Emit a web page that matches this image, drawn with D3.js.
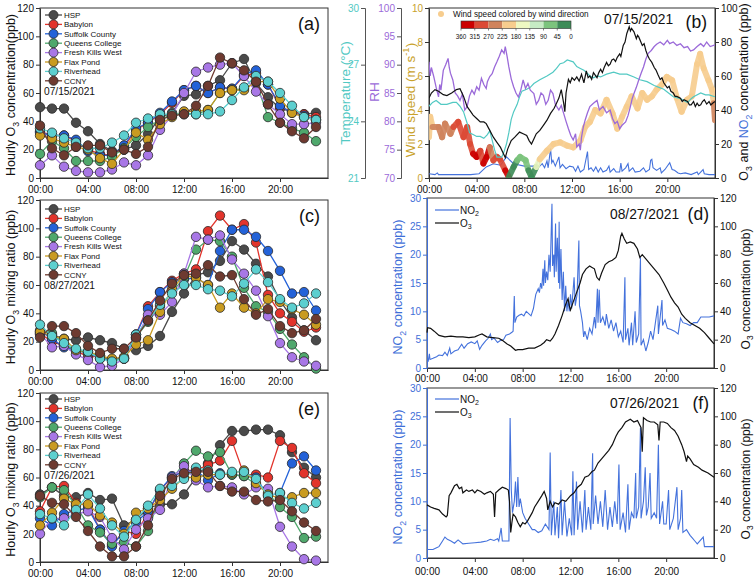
<!DOCTYPE html>
<html><head><meta charset="utf-8">
<script src="https://cdn.jsdelivr.net/npm/d3@7"></script>
<style>body{margin:0;background:#fff}svg{display:block}</style>
</head><body>
<svg id="c" width="756" height="581"></svg>
<script>
// ---------------- DATA ----------------
const stations = ["HSP","Babylon","Suffolk County","Queens College","Fresh Kills West","Flax Pond","Riverhead","CCNY"];
const hourTicks = [0,4,8,12,16,20];

// Hourly O3 (ppb), hours 0..23, one row per station (same order as stations)
const o3_0715 = [
  [50,49,49,39,33,24,19,20,23,31,43,46,58,59,65,69,81,84,67,57,49,47,45,46],
  [33,30,30,26,20,17,16,22,34,39,45,53,62,65,60,64,63,72,74,66,50,47,45,43],
  [32,30,30,27,19,16,16,23,35,39,46,54,62,65,60,64,63,73,76,66,51,46,44,41],
  [17,26,21,12,12,12,15,21,29,36,41,45,46,45,48,60,62,63,68,43,39,35,32,26],
  [9,16,8,5,4,4,6,11,9,16,34,44,60,75,78,80,81,72,61,52,45,38,38,39],
  [30,28,25,22,20,14,10,20,32,27,38,43,47,47,48,60,62,62,68,68,56,46,43,41],
  [35,32,28,25,21,21,25,30,39,42,45,45,45,45,45,47,55,64,72,68,60,51,43,41],
  [37,21,16,22,23,23,18,20,17,22,41,44,45,51,65,85,81,76,68,52,39,33,28,36]
];
const o3_0827 = [
  [25,25,22,21,23,21,19,15,14,17,24,41,54,67,69,77,91,85,75,66,49,37,28,21],
  [26,20,17,14,9,10,7,8,25,45,55,63,68,71,98,109,99,103,90,53,40,34,27,30],
  [28,22,16,14,12,8,7,9,25,43,55,62,64,65,60,84,99,99,94,84,70,54,55,42],
  [27,26,18,14,12,10,7,8,23,34,45,55,65,85,92,91,80,58,45,41,29,18,9,1],
  [26,16,17,11,7,2,3,8,22,39,39,48,68,94,92,95,78,68,56,38,19,9,6,3],
  [27,24,22,14,13,10,8,9,18,21,41,57,67,65,60,44,54,44,40,50,48,43,39,32],
  [32,24,19,15,13,8,6,8,25,35,46,54,60,60,57,56,52,61,71,62,50,44,47,54],
  [23,31,31,26,17,12,15,15,23,35,49,61,67,68,74,66,67,50,39,43,31,26,28,36]
];
const o3_0726 = [
  [48,53,47,46,49,44,45,26,30,38,41,41,48,60,70,83,93,93,94,94,90,78,67,60],
  [36,53,54,42,40,23,12,22,20,35,51,60,65,65,69,72,86,62,62,60,86,81,63,56],
  [31,26,34,37,38,23,11,22,28,36,51,61,64,65,58,63,62,61,60,47,49,70,75,65],
  [46,53,51,40,26,21,13,14,11,22,47,59,70,79,75,78,62,61,55,49,39,32,17,18],
  [20,31,31,34,36,32,17,9,23,31,37,60,68,58,53,54,53,48,53,52,25,11,2,1],
  [26,35,45,41,41,33,28,20,35,38,44,52,60,60,62,62,63,65,56,48,45,46,49,49],
  [34,31,26,37,48,38,26,18,30,40,52,54,59,67,65,62,64,64,59,47,49,42,38,42],
  [47,42,41,32,22,11,4,4,11,26,47,59,63,64,64,54,50,50,44,43,44,36,28,22]
];

// Panel (b), 07/15/2021: [hour, value]
const b_o3 = [[0,47],[0.2,50],[0.5,52],[0.8,51],[1.0,50],[1.2,49],[1.5,48.5],[1.9,50],[2.3,52],[2.6,52.5],[2.9,48],[3.2,42],[3.5,39],[3.7,37],[4.0,35],[4.3,33],[4.6,33],[4.8,32],[5.1,28],[5.4,24],[5.7,21],[6.0,18],[6.2,15],[6.4,12],[6.6,17],[6.9,22],[7.2,24],[7.6,27],[7.9,26],[8.2,25],[8.4,22],[8.6,20],[8.8,23],[9.0,26],[9.3,28],[9.6,31],[9.9,34],[10.2,38],[10.5,41],[10.7,44],[10.9,47],[11.1,52],[11.3,44],[11.4,39],[11.5,50],[11.7,58],[11.85,56],[12.0,59],[12.2,57.5],[12.4,59.5],[12.6,57],[12.8,61],[13.0,56],[13.2,63],[13.35,59],[13.5,60],[13.65,58],[13.8,62],[14.1,59],[14.25,62],[14.4,64],[14.55,62],[14.7,65],[14.9,68],[15.05,66],[15.2,67],[15.35,69.5],[15.5,70],[15.65,68.5],[15.8,71],[16.0,73],[16.1,71.5],[16.3,78],[16.45,80],[16.6,85],[16.8,89],[16.9,86.5],[17.0,88],[17.2,86],[17.4,82],[17.5,84],[17.6,83],[17.9,78],[18.05,79],[18.2,75],[18.35,72],[18.5,70],[18.7,68],[18.9,65],[19.05,63.5],[19.2,61],[19.4,58],[19.55,59],[19.7,56],[20.0,53],[20.15,54],[20.3,51],[20.5,50],[20.65,48],[20.8,48],[21.1,47],[21.25,45],[21.4,46],[21.7,45],[21.85,43],[22.0,43],[22.2,45],[22.35,42],[22.5,44],[22.65,42.5],[22.8,43],[22.95,45],[23.1,46],[23.3,43.5],[23.5,45],[23.65,43],[23.8,44],[24,45]];
const b_no2 = [[0,2.5],[0.5,2],[0.7,3],[0.8,2],[1.5,2],[2.5,2],[3.5,2],[4.2,2.5],[4.8,6.5],[5.4,8.4],[6.0,7.5],[6.5,12.4],[7.1,8.4],[8.0,7],[9.0,7],[9.2,12.4],[9.3,7],[9.5,8.4],[9.7,6],[9.9,10],[10.0,6],[10.2,17.3],[10.3,9],[10.4,10.4],[10.6,7],[10.9,12.4],[11.0,6],[11.2,8],[11.5,5.5],[11.8,7],[12.1,6.5],[12.3,4],[12.5,7],[12.7,3.5],[13.0,5],[13.3,15.5],[13.4,5],[13.6,6],[13.8,4],[14.0,6.5],[14.2,3.5],[14.4,6],[14.6,3.5],[14.9,4.5],[15.1,7],[15.2,3.5],[15.5,5.5],[15.7,3.5],[16.0,3.5],[16.1,8.8],[16.2,4],[16.5,6],[16.7,8.4],[16.8,4],[17.1,6],[17.3,3.5],[17.7,4],[18.0,6],[18.2,3.5],[18.5,5],[18.6,10.4],[18.7,11],[18.8,6],[19.1,4.5],[19.4,6],[19.5,3],[19.8,5],[20.2,9],[20.4,5],[20.6,4.5],[20.9,3],[21.1,2.5],[21.5,3],[22.0,2],[22.5,3.5],[22.6,2],[23.0,5],[23.1,2.5],[23.5,2],[24,2]];
const b_temp = [[0,24.8],[0.3,25.0],[0.6,25.1],[1,24.9],[1.5,24.9],[2,25.0],[2.3,25.0],[2.6,24.8],[2.9,24.5],[3.2,23.9],[3.4,23.4],[3.7,23.3],[4.0,23.2],[4.3,23.2],[4.6,23.1],[4.9,23.3],[5.1,23.5],[5.3,23.0],[5.5,22.5],[5.7,22.1],[6.1,22.1],[6.3,22.4],[6.5,22.8],[6.7,23.4],[6.9,24.1],[7.1,24.5],[7.4,24.9],[7.6,25.3],[7.8,25.6],[8.2,25.7],[8.5,25.8],[8.8,26.0],[9.3,26.2],[9.9,26.4],[10.4,26.6],[10.7,26.8],[11.0,27.05],[11.3,27.1],[11.6,27.25],[12.1,27.15],[12.4,26.9],[12.7,26.8],[13.0,26.7],[13.2,26.6],[13.5,26.4],[13.8,26.3],[14.1,26.4],[14.4,26.35],[14.9,26.5],[15.5,26.6],[16.0,26.5],[16.6,26.5],[17.2,26.35],[17.7,26.2],[18.3,26.1],[18.9,25.9],[19.3,25.8],[19.7,25.7],[20.1,25.5],[20.5,25.3],[21.1,25.2],[21.7,25.0],[22.0,25.2],[22.2,25.3],[22.8,25.5],[23.2,25.4],[23.5,25.4],[24,25.3]];
const b_rh = [[0,90.5],[0.1,88],[0.2,89.5],[0.4,87.9],[0.6,86],[0.8,84.3],[0.9,86.5],[1.0,85.5],[1.2,89],[1.4,90],[1.6,91.1],[1.7,89.5],[1.8,88.5],[2.0,87.3],[2.2,85],[2.4,84.5],[2.6,83.7],[2.8,84.8],[3.0,82],[3.2,82.6],[3.4,84.5],[3.6,85.5],[3.8,84.8],[4.0,86.1],[4.2,85.5],[4.4,87.6],[4.6,86.5],[4.8,85.8],[4.9,87],[5.1,87.9],[5.3,88.4],[5.5,89.6],[5.7,90.5],[5.9,91.5],[6.1,92.6],[6.3,92],[6.4,93.2],[6.55,91.5],[6.7,89.6],[6.9,87.5],[7.1,86.1],[7.3,85],[7.5,84.3],[7.7,85.5],[7.9,87.3],[8.1,85.8],[8.3,86.7],[8.5,85.5],[8.8,84.9],[9.0,83],[9.2,83.7],[9.4,85],[9.6,84.6],[9.8,83],[10.0,83.7],[10.2,85.5],[10.4,84.9],[10.6,83],[10.9,82],[11.1,82.8],[11.3,81.4],[11.5,80],[11.7,78.7],[11.9,77.5],[12.1,76.7],[12.3,77.8],[12.4,75.5],[12.6,76],[12.7,74.9],[12.8,77.2],[12.95,79],[13.1,80.2],[13.3,81.5],[13.5,82.6],[13.8,83.2],[14.1,83.7],[14.3,82],[14.6,82.6],[14.9,81.5],[15.2,82],[15.4,80.5],[15.6,79.6],[15.8,80],[16.0,78.7],[16.2,79.3],[16.5,79.9],[16.7,81],[16.9,82.6],[17.05,84],[17.2,84.9],[17.4,86],[17.6,87.3],[17.8,88.5],[18.0,89.6],[18.2,91],[18.4,92],[18.65,92.5],[18.9,93.2],[19.1,93.6],[19.4,94],[19.7,93.5],[20.0,94.3],[20.2,93.7],[20.5,94],[20.8,93.4],[21.1,93.7],[21.4,93],[21.7,93.2],[21.95,92.4],[22.2,92.6],[22.5,93.2],[22.8,93.7],[23.05,93.2],[23.3,94],[23.6,93.2],[24,93.5]];
// wind: [hour, speed (m/s), direction (deg)]
const b_wind = [[0,2.4,200],[0.1,3.6,200],[0.3,3.0,250],[0.8,3.0,250],[1.1,2.4,250],[1.35,3.2,250],[1.8,2.6,250],[2.05,3.0,290],[2.45,3.3,290],[2.9,2.4,290],[3.2,3.0,290],[3.45,2.0,290],[3.7,1.43,330],[4.0,1.24,330],[4.3,1.6,290],[4.56,0.85,330],[4.85,1.24,330],[5.1,1.8,250],[5.4,1.04,290],[5.7,1.24,290],[5.95,1.1,290],[6.4,0.45,330],[6.7,0.06,20],[7.1,0.65,20],[7.4,1.04,60],[7.65,1.24,60],[8.1,1.04,60],[8.35,0.45,20],[8.6,0.06,20],[9.0,0.65,150],[9.3,1.1,200],[9.9,1.6,200],[10.45,2.0,200],[11.0,2.1,200],[11.6,1.9,200],[12.1,1.8,200],[12.7,2.2,200],[13.1,3.0,200],[13.5,3.3,200],[13.95,4.0,200],[14.4,3.8,200],[14.9,4.6,200],[15.4,3.8,200],[15.8,2.9,200],[16.2,3.6,200],[16.6,4.2,200],[17.0,4.8,200],[17.5,4.1,200],[17.9,5.0,200],[18.3,4.6,200],[18.7,4.8,200],[19.1,5.2,200],[19.55,5.5,200],[19.95,5.95,200],[20.4,5.75,200],[20.8,4.7,200],[21.2,3.9,200],[21.65,4.6,200],[22.05,4.8,200],[22.5,6.7,200],[22.75,7.3,200],[23.05,6.45,200],[23.45,5.75,200],[23.75,5.2,200],[23.9,4.4,250],[24,3.4,290]];
const dirBreaks = [360,315,270,225,180,135,90,45,0];

// Panel (d), 08/27/2021
const d_no2 = [[0,1],[0.1,1.2],[0.2,2.5],[0.25,1.5],[0.5,1.7],[0.8,2],[1,2.3],[1.3,2.2],[1.5,2.8],[1.7,2.2],[1.9,3.5],[2,2.5],[2.3,3],[2.6,3.2],[2.9,4.2],[3.1,3.5],[3.4,4.3],[3.7,4.6],[4,4.3],[4.2,4.8],[4.4,3.3],[4.6,4],[4.9,4.8],[5.1,5.2],[5.3,6],[5.4,5],[5.6,5.3],[5.9,4.5],[6.1,4.8],[6.4,5],[6.6,5.8],[6.9,6],[7.1,6.3],[7.2,6.5],[7.3,12.7],[7.35,8],[7.5,9],[7.7,9.3],[7.9,9.5],[8.1,9.2],[8.3,10],[8.5,9.6],[8.7,9.2],[8.9,10.5],[9,11.8],[9.1,13],[9.3,14],[9.4,13.3],[9.5,15],[9.6,14],[9.7,17.5],[9.75,14.5],[9.85,19],[9.9,15],[10,17],[10.1,15.5],[10.2,20],[10.3,17],[10.45,29],[10.5,18],[10.6,20],[10.65,16],[10.75,25.5],[10.8,17],[10.9,23],[11,15],[11.05,25.8],[11.1,14],[11.2,21],[11.3,12],[11.4,17],[11.5,10],[11.6,14.5],[11.7,10],[11.8,12],[11.9,10],[12,13],[12.1,10.5],[12.3,16],[12.4,11],[12.55,13],[12.7,22.5],[12.75,11],[12.85,10],[13,8],[13.1,5.5],[13.2,6.5],[13.4,5],[13.6,7],[13.8,6],[14,9],[14.1,7],[14.25,14],[14.3,8],[14.4,13.8],[14.5,8],[14.7,9],[14.9,7.5],[15,9.5],[15.2,7],[15.4,8.5],[15.6,6.5],[15.8,8],[16,5.5],[16.2,6.5],[16.4,4.5],[16.55,16],[16.6,5],[16.8,7],[16.9,4],[17.1,8],[17.2,4],[17.4,10],[17.5,4.5],[17.7,6],[17.85,19.5],[17.9,4],[18.1,5],[18.3,3],[18.5,4.5],[18.7,6.5],[18.9,5],[19.1,8],[19.3,11],[19.35,6],[19.5,9],[19.65,12],[19.7,7.5],[19.9,8.5],[20.1,7],[20.4,6.8],[20.7,6.5],[21,6],[21.2,8.8],[21.4,8],[21.7,7.8],[22,7.5],[22.3,8],[22.6,8],[22.9,9],[23.2,9],[23.6,9],[24,9.2]];
const d_o3 = [[0,25],[0.05,28.5],[0.3,28],[0.6,26],[1,23],[1.5,22],[2,22.5],[2.5,22],[3,22],[3.5,21.5],[4,22],[4.4,23.5],[4.6,24],[5,22],[5.5,21.5],[6,21],[6.3,19.5],[6.7,17],[7,15.5],[7.4,12.5],[7.6,13],[8,13],[8.5,14],[9,14],[9.5,16],[9.8,18],[10,20],[10.3,19],[10.5,21],[10.7,24],[11,30],[11.3,37],[11.6,45],[11.8,49],[11.9,44],[12,41],[12.2,46],[12.5,53],[12.8,60],[13,66],[13.3,70],[13.6,72],[13.8,71],[14,70],[14.2,64],[14.4,62],[14.6,67],[14.9,73],[15.2,75],[15.5,76],[15.8,78],[16,83],[16.2,93],[16.3,95],[16.5,91],[16.7,88],[17,89],[17.3,88],[17.6,84],[17.8,78],[18,80],[18.3,77],[18.7,73],[19,70],[19.4,66],[19.8,60],[20.1,55],[20.4,50],[20.7,46],[21,43],[21.3,38],[21.6,35],[22,32],[22.4,30],[22.8,28],[23.2,25],[23.6,21],[24,17]];

// Panel (f), 07/26/2021
const f_no2 = [[0,1.5],[0.5,1.5],[0.8,1.8],[1,2],[1.3,3],[1.5,3.7],[1.7,3.3],[2,3],[2.3,2.6],[2.6,3.2],[3,2.5],[3.5,2.6],[4,2.7],[4.5,2.8],[5,3],[5.3,3.3],[5.6,3.1],[5.9,3.4],[6,3],[6.2,5.3],[6.3,3],[6.6,3],[6.85,3],[6.95,24.7],[7.05,12],[7.15,8],[7.3,10],[7.4,13.5],[7.5,9],[7.6,14.3],[7.7,9],[7.8,10.5],[8,8],[8.2,7],[8.5,6],[8.8,5],[9,5],[9.3,4.5],[9.6,4.8],[9.9,6],[10.2,5],[10.3,18.6],[10.4,4],[10.6,10],[10.7,4],[10.9,9],[11,3.5],[11.2,12],[11.3,4],[11.5,10],[11.7,3.8],[11.9,7],[12.1,4],[12.2,15.3],[12.3,4],[12.5,13.5],[12.6,5],[12.8,10],[13,4.5],[13.2,12],[13.3,5],[13.5,9],[13.7,5],[13.85,18.5],[13.9,6],[14.1,11],[14.3,6],[14.5,10],[14.7,5.5],[14.9,12],[15.1,5],[15.3,9],[15.5,5.5],[15.7,10],[15.9,6],[16.05,16.5],[16.15,5],[16.4,8],[16.6,4.5],[16.8,13],[16.9,5],[17.1,8],[17.3,7],[17.45,15],[17.5,7],[17.7,9],[17.85,23],[17.9,7],[18.1,10],[18.25,16],[18.35,7.5],[18.5,9],[18.65,15],[18.75,7],[19,8],[19.2,7],[19.35,20],[19.45,6],[19.7,10],[19.8,6],[20,6],[20.2,12],[20.3,5],[20.6,7],[20.9,12.5],[21,5],[21.2,7],[21.3,12],[21.4,4.5],[21.7,5],[22,4],[22.2,3.5],[22.4,3],[22.6,2.5],[23.1,3.7],[23.2,2],[23.6,2],[24,2]];
const f_o3 = [[0,37.5],[0.3,36],[0.6,35],[1,34],[1.3,31],[1.6,29],[1.7,30],[1.85,44],[2,46],[2.3,51],[2.5,52],[2.7,49],[2.9,50],[3,46],[3.3,48],[3.5,47],[3.8,48],[4,46],[4.2,48],[4.5,47],[4.8,45],[5,46],[5.3,47],[5.55,45],[5.65,29],[5.75,46],[6,48],[6.3,50],[6.6,49],[6.8,48],[6.9,40],[7,18],[7.1,25],[7.2,31],[7.4,29],[7.6,25],[7.8,22],[8,25],[8.2,24],[8.4,26],[8.6,29],[8.8,32],[9,36],[9.3,40],[9.6,44],[9.8,47],[10,42],[10.1,34],[10.3,40],[10.5,36],[10.7,39],[11,38],[11.3,41],[11.6,40],[12,44],[12.3,46],[12.6,50],[12.9,52],[13.2,57],[13.5,58],[13.8,61],[14,62],[14.3,67],[14.6,70],[14.9,73],[15.2,76],[15.5,80],[15.8,86],[16,89],[16.3,92],[16.6,96],[17,98],[17.3,96],[17.6,97],[17.9,92],[18,75],[18.1,99],[18.4,97],[18.7,96],[19,96],[19.3,94],[19.4,83],[19.5,96],[19.8,96],[20.1,95],[20.4,92],[20.7,90],[21,86],[21.3,80],[21.5,75],[21.7,68],[21.8,72],[22,70],[22.3,66],[22.7,64],[23,62],[23.5,60],[24,57]];

// ---------------- STYLE ----------------
const FONT = "'Liberation Sans', Arial, Helvetica, sans-serif";
const stColors = ["#4a4a4a","#e2342c","#2462d8","#4fa86c","#a877e6","#c99b20","#5ccfcf","#6e3a30"];
const dirColors = ["#cc0000","#dc4a35","#d0835c","#f7cd8e","#eef8c2","#c6ebc4","#7cc47d","#3e8c58"];
const CYAN="#52c9c3", PURPLE="#9b6ad9", GOLD="#c9a22c", BLUE="#3f6fd8", NO2LINE="#4472dc";

const svg = d3.select("#c");
svg.append("rect").attr("width",756).attr("height",581).attr("fill","#fff");

const fmtH = h => d3.format("02")(h)+":00";

function styleAxis(g, textColor, lineColor){
  g.selectAll("text").attr("font-size",10).attr("font-family",FONT).attr("fill",textColor);
  g.selectAll("line,path").attr("stroke",lineColor||"#333");
  return g;
}
function frame(x0,x1,y0,y1){
  svg.append("rect").attr("x",x0).attr("y",y0).attr("width",x1-x0).attr("height",y1-y0)
    .attr("fill","none").attr("stroke","#333").attr("stroke-width",1);
}
// rotated title with parts: {t, c, sub, sup}
function vtitle(cx, cy, parts, size){
  const t = svg.append("text").attr("transform",`translate(${cx},${cy}) rotate(-90)`)
    .attr("text-anchor","middle").attr("font-family",FONT).attr("font-size",size).attr("dy","0.35em");
  parts.forEach(p=>{
    const s = t.append("tspan").text(p.t).attr("fill",p.c||"#111");
    if(p.sub){ s.attr("font-size",size*0.7).attr("dy",size*0.25); t.append("tspan").text("\u200A").attr("dy",-size*0.25).attr("font-size",1); }
    if(p.sup){ s.attr("font-size",size*0.7).attr("dy",-size*0.4); t.append("tspan").text("\u200A").attr("dy",size*0.4).attr("font-size",1); }
  });
  return t;
}
function htext(x,y,parts,size,anchor){
  const t = svg.append("text").attr("x",x).attr("y",y).attr("font-family",FONT).attr("font-size",size)
    .attr("text-anchor",anchor||"start").attr("dy","0.35em");
  parts.forEach(p=>{
    const s = t.append("tspan").text(p.t).attr("fill",p.c||"#111");
    if(p.sub){ s.attr("font-size",size*0.7).attr("dy",size*0.25); t.append("tspan").text("\u200A").attr("dy",-size*0.25).attr("font-size",1); }
  });
  return t;
}

// ---------------- LEFT PANELS (a, c, e) ----------------
function stationPanel(data, y0, y1, legOff, date, label, titleParts){
  const x = d3.scaleLinear([0,24],[40,328]);
  const y = d3.scaleLinear([0,120],[y1,y0]);
  frame(40,328,y0,y1);
  styleAxis(svg.append("g").attr("transform",`translate(0,${y1})`)
    .call(d3.axisBottom(x).tickValues(hourTicks).tickFormat(fmtH).tickSize(4).tickSizeOuter(0).tickPadding(4)),"#111");
  styleAxis(svg.append("g").attr("transform",`translate(40,0)`)
    .call(d3.axisLeft(y).tickValues(d3.range(0,121,20)).tickSize(4).tickSizeOuter(0).tickPadding(2)),"#111");
  const line = d3.line().defined(d=>d!=null).x((d,i)=>x(i)).y(d=>y(d));
  data.forEach((row,k)=>{
    const g = svg.append("g");
    g.append("path").attr("d",line(row)).attr("fill","none").attr("stroke",stColors[k]).attr("stroke-width",1.3);
    g.selectAll("circle").data(row.map((v,i)=>[i,v]).filter(d=>d[1]!=null)).join("circle")
      .attr("cx",d=>x(d[0])).attr("cy",d=>y(d[1])).attr("r",4.7)
      .attr("fill",stColors[k]).attr("stroke","#2a2a2a").attr("stroke-width",0.8);
  });
  // legend
  stations.forEach((s,k)=>{
    const ly = y0+legOff+k*9.4;
    svg.append("line").attr("x1",45).attr("x2",62).attr("y1",ly).attr("y2",ly).attr("stroke",stColors[k]).attr("stroke-width",1.3);
    svg.append("circle").attr("cx",53.5).attr("cy",ly).attr("r",4.5).attr("fill",stColors[k]).attr("stroke","#2a2a2a").attr("stroke-width",0.8);
    svg.append("text").attr("x",64).attr("y",ly).attr("dy","0.35em").attr("font-family",FONT).attr("font-size",8).attr("fill","#111").text(s);
  });
  htext(44, y0+legOff+7*9.4+10.5, [{t:date}], 10.2);
  htext(320, y0+16, [{t:label}], 18, "end");
  vtitle(11, (y0+y1)/2+2, titleParts, 12.5);
}
stationPanel(o3_0715, 8, 178, 7, "07/15/2021", "(a)",
  [{t:"Hourly O"},{t:"3",sub:true},{t:" concentration(ppb)"}]);
stationPanel(o3_0827, 200, 370, 9, "08/27/2021", "(c)",
  [{t:"Hourly O"},{t:"3",sub:true},{t:" mixing ratio (ppb)"}]);
stationPanel(o3_0726, 393, 562, 6, "07/26/2021", "(e)",
  [{t:"Hourly O"},{t:"3",sub:true},{t:" mixing ratio (ppb)"}]);

// ---------------- PANEL (b) ----------------
(function(){
  const X0=429, X1=715, Y0=8, Y1=178;
  const x = d3.scaleLinear([0,24],[X0,X1]);
  const yW = d3.scaleLinear([0,10],[Y1,Y0]);
  const yC = d3.scaleLinear([0,100],[Y1,Y0]);
  const yRH = d3.scaleLinear([70,100],[Y1,Y0]);
  const yT = d3.scaleLinear([21,30],[Y1,Y0]);
  frame(X0,X1,Y0,Y1);
  styleAxis(svg.append("g").attr("transform",`translate(0,${Y1})`)
    .call(d3.axisBottom(x).tickValues(hourTicks).tickFormat(fmtH).tickSize(4).tickSizeOuter(0).tickPadding(4)),"#111");
  styleAxis(svg.append("g").attr("transform",`translate(${X0},0)`)
    .call(d3.axisLeft(yW).tickValues(d3.range(0,11,2)).tickSize(4).tickSizeOuter(0).tickPadding(2)),GOLD);
  styleAxis(svg.append("g").attr("transform",`translate(401,0)`)
    .call(d3.axisLeft(yRH).tickValues(d3.range(70,101,5)).tickSize(4).tickSizeOuter(4).tickPadding(2)),PURPLE,"#555");
  styleAxis(svg.append("g").attr("transform",`translate(365,0)`)
    .call(d3.axisLeft(yT).tickValues([21,24,27,30]).tickSize(4).tickSizeOuter(4).tickPadding(2)),CYAN,"#555");
  styleAxis(svg.append("g").attr("transform",`translate(${X1},0)`)
    .call(d3.axisRight(yC).tickValues(d3.range(0,101,20)).tickSize(4).tickSizeOuter(0).tickPadding(2)),"#111");

  svg.append("clipPath").attr("id","clipb").append("rect").attr("x",X0).attr("y",Y0).attr("width",X1-X0).attr("height",Y1-Y0);
  const g = svg.append("g").attr("clip-path","url(#clipb)");
  const ln = ys => d3.line().x(d=>x(d[0])).y(d=>ys(d[1]));
  g.append("path").attr("d",ln(yC)(b_no2)).attr("fill","none").attr("stroke",NO2LINE).attr("stroke-width",1.1);
  // wind speed band colored by direction
  const dirColor = dir => { let i = Math.floor((360-dir)/45); i = Math.max(0,Math.min(7,i)); return dirColors[i]; };
  for(let i=0;i<b_wind.length-1;i++){
    const a=b_wind[i], b=b_wind[i+1];
    g.append("line").attr("x1",x(a[0])).attr("y1",yW(a[1])).attr("x2",x(b[0])).attr("y2",yW(b[1]))
      .attr("stroke",dirColor(a[2])).attr("stroke-width",6).attr("stroke-linecap","round").attr("opacity",0.9);
  }
  g.append("path").attr("d",ln(yT)(b_temp)).attr("fill","none").attr("stroke",CYAN).attr("stroke-width",1.2);
  g.append("path").attr("d",ln(yRH)(b_rh)).attr("fill","none").attr("stroke",PURPLE).attr("stroke-width",1.3);
  g.append("path").attr("d",ln(yC)(b_o3)).attr("fill","none").attr("stroke","#111").attr("stroke-width",1.2);

  // wind legend + colorbar
  svg.append("circle").attr("cx",441).attr("cy",14).attr("r",3).attr("fill",dirColors[3]);
  svg.append("text").attr("x",453).attr("y",14).attr("dy","0.35em").attr("font-family",FONT).attr("font-size",8.2).attr("fill","#111")
    .text("Wind speed colored by wind direction");
  const cb = d3.scaleLinear([360,0],[461,571]);
  for(let i=0;i<8;i++){
    svg.append("rect").attr("x",cb(dirBreaks[i])).attr("y",21).attr("width",cb(dirBreaks[i+1])-cb(dirBreaks[i])).attr("height",7.5)
      .attr("fill",dirColors[i]);
  }
  svg.append("rect").attr("x",461).attr("y",21).attr("width",110).attr("height",7.5).attr("fill","none").attr("stroke","#333").attr("stroke-width",0.6);
  dirBreaks.forEach(v=>{
    svg.append("line").attr("x1",cb(v)).attr("x2",cb(v)).attr("y1",28.5).attr("y2",30.5).attr("stroke","#333").attr("stroke-width",0.6);
    svg.append("text").attr("x",cb(v)).attr("y",36.5).attr("dy","0.35em").attr("text-anchor","middle")
      .attr("font-family",FONT).attr("font-size",6.3).attr("fill","#111").text(v);
  });
  htext(604, 19, [{t:"07/15/2021"}], 13.8);
  htext(707, 22, [{t:"(b)"}], 17.5, "end");

  vtitle(345, 93, [{t:"Temperature (\u00B0C)",c:CYAN}], 13.5);
  vtitle(374, 92, [{t:"RH",c:PURPLE}], 13.5);
  vtitle(410, 100, [{t:"Wind speed (m s",c:GOLD},{t:"-1",c:GOLD,sup:true},{t:")",c:GOLD}], 13.5);
  vtitle(744, 92, [{t:"O"},{t:"3",sub:true},{t:" and "},{t:"NO",c:BLUE},{t:"2",c:BLUE,sub:true},{t:" concentration (ppb)"}], 12.5);
})();

// ---------------- PANELS (d) and (f) ----------------
function tsPanel(no2, o3, Y0, Y1, legY, date, label, pad){
  const X0=427, X1=714;
  const x = d3.scaleLinear([0,24],[X0,X1]);
  const yN = d3.scaleLinear([0,30],[Y1,Y0]);
  const yO = d3.scaleLinear([0,120],[Y1,Y0]);
  frame(X0,X1,Y0,Y1);
  styleAxis(svg.append("g").attr("transform",`translate(0,${Y1})`)
    .call(d3.axisBottom(x).tickValues(hourTicks).tickFormat(fmtH).tickSize(4).tickSizeOuter(0).tickPadding(pad)),"#111");
  styleAxis(svg.append("g").attr("transform",`translate(${X0},0)`)
    .call(d3.axisLeft(yN).tickValues(d3.range(0,31,5)).tickSize(4).tickSizeOuter(0).tickPadding(2)),BLUE,BLUE);
  styleAxis(svg.append("g").attr("transform",`translate(${X1},0)`)
    .call(d3.axisRight(yO).tickValues(d3.range(0,121,20)).tickSize(4).tickSizeOuter(0).tickPadding(2)),"#111");
  const g = svg.append("g");
  g.append("path").attr("d",d3.line().x(d=>x(d[0])).y(d=>yN(d[1]))(no2)).attr("fill","none").attr("stroke",NO2LINE).attr("stroke-width",1.1);
  g.append("path").attr("d",d3.line().x(d=>x(d[0])).y(d=>yO(d[1]))(o3)).attr("fill","none").attr("stroke","#111").attr("stroke-width",1.2);
  // legend
  [[NO2LINE,"NO","2"],["#111","O","3"]].forEach((l,i)=>{
    const ly = legY + i*13;
    svg.append("line").attr("x1",X0+8).attr("x2",X0+32).attr("y1",ly).attr("y2",ly).attr("stroke",l[0]).attr("stroke-width",1.2);
    htext(X0+33, ly, [{t:l[1]},{t:l[2],sub:true}], 10);
  });
  htext(610, legY+4, [{t:date}], 13.8);
  htext(709, legY+4, [{t:label}], 17.5, "end");
  vtitle(398, (Y0+Y1)/2+4, [{t:"NO",c:BLUE},{t:"2",c:BLUE,sub:true},{t:" concentration (ppb)",c:BLUE}], 12.5);
  vtitle(746, (Y0+Y1)/2+6, [{t:"O"},{t:"3",sub:true},{t:" concentration (ppb)"}], 12);
}
tsPanel(d_no2, d_o3, 198, 368, 210, "08/27/2021", "(d)", 3);
tsPanel(f_no2, f_o3, 388, 558, 399, "07/26/2021", "(f)", 6);
</script>
</body></html>
